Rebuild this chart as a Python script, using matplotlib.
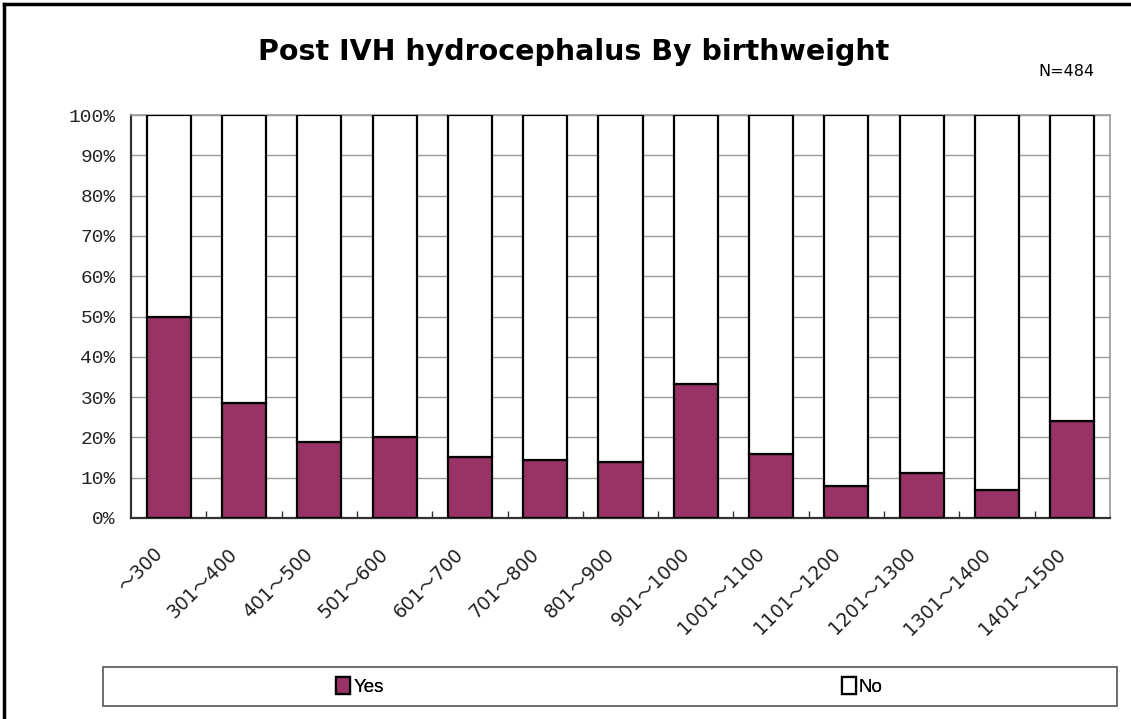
import matplotlib
matplotlib.use("Agg")
import matplotlib.pyplot as plt
from matplotlib.patches import Rectangle
from matplotlib.lines import Line2D
from matplotlib.ticker import FuncFormatter
from matplotlib.transforms import ScaledTranslation

categories = ["～300", "301～400", "401～500", "501～600", "601～700", "701～800",
              "801～900", "901～1000", "1001～1100", "1101～1200", "1201～1300",
              "1301～1400", "1401～1500"]
yes_pct = [50.0, 28.6, 18.8, 20.0, 15.2, 14.3, 13.8, 33.3, 16.0, 7.9, 11.1, 7.0, 24.0]
no_pct = [100 - v for v in yes_pct]
series_names = ["Yes", "No"]
title = "Post IVH hydrocephalus By birthweight"
note = "N=484"

W, H = 1131, 719
fig = plt.figure(figsize=(W / 100, H / 100), dpi=100)
fig.patch.set_facecolor("white")

# outer frame (left and top edges visible)
fig.add_artist(Line2D([4 / W, 4 / W], [0, 1 - 4 / H], color="black", lw=2.5,
                      transform=fig.transFigure))
fig.add_artist(Line2D([4 / W, 1], [1 - 4 / H, 1 - 4 / H], color="black", lw=2.5,
                      transform=fig.transFigure))

ax = fig.add_axes([131 / W, 1 - 518 / H, 979 / W, 403 / H])
x = list(range(len(categories)))
width = 0.585
plum = "#993366"
b_yes = ax.bar(x, yes_pct, width, color=plum, edgecolor="black", linewidth=1.6,
               zorder=3, label=series_names[0])
b_no = ax.bar(x, no_pct, width, bottom=yes_pct, color="white", edgecolor="black",
              linewidth=1.6, zorder=3, label=series_names[1])

ax.set_xlim(-0.5, len(categories) - 0.5)
ax.set_ylim(0, 100)
ax.set_yticks(range(0, 101, 10))
ax.yaxis.set_major_formatter(FuncFormatter(lambda v, p: f"{int(v)}%"))
ax.grid(axis="y", color="#9a9a9a", lw=1.0, zorder=0)
ax.set_axisbelow(True)

for s in ["top", "right"]:
    ax.spines[s].set_color("#9a9a9a")
    ax.spines[s].set_linewidth(1.2)
for s in ["left", "bottom"]:
    ax.spines[s].set_color("#333333")
    ax.spines[s].set_linewidth(1.6)

ax.tick_params(axis="y", length=0, pad=11, labelsize=14, labelcolor="#222222")
for lbl in ax.get_yticklabels():
    lbl.set_family("Liberation Mono")

ax.set_xticks(x)
ax.set_xticklabels(categories, rotation=45, ha="right", va="top",
                   rotation_mode="anchor", fontsize=13.5,
                   family=["DejaVu Sans", "Noto Sans CJK JP"], color="#222222")
ax.tick_params(axis="x", which="major", length=0, pad=19)
shift = ScaledTranslation(-16 / 100, 0, fig.dpi_scale_trans)
for lbl in ax.get_xticklabels():
    lbl.set_transform(lbl.get_transform() + shift)
ax.set_xticks([i + 0.5 for i in x[:-1]], minor=True)
ax.tick_params(axis="x", which="minor", direction="in", length=5, width=1,
               color="#333333")

fig.text(574 / W, 1 - 52 / H, title, ha="center", va="center", fontsize=20.5,
         fontweight="bold", family="DejaVu Sans")
fig.text(1095 / W, 1 - 72 / H, note, ha="right", va="center", fontsize=11.5,
         family="DejaVu Sans")

# legend frame
fig.add_artist(Rectangle((103 / W, 1 - 706 / H), (1117 - 103) / W, 39 / H,
                         transform=fig.transFigure, facecolor="white",
                         edgecolor="#555555", lw=1.2))
for handle, name, cx in [(b_yes, series_names[0], 360), (b_no, series_names[1], 862)]:
    leg = fig.legend([handle], [name], loc="center", bbox_to_anchor=(cx / W, 1 - 686.5 / H),
                     frameon=False, handlelength=0.75, handleheight=1.0,
                     handletextpad=0.15,
                     prop={"family": "Liberation Sans", "size": 13.5})
    fig.add_artist(leg)

fig.savefig("out.png", dpi=100, facecolor="white")
